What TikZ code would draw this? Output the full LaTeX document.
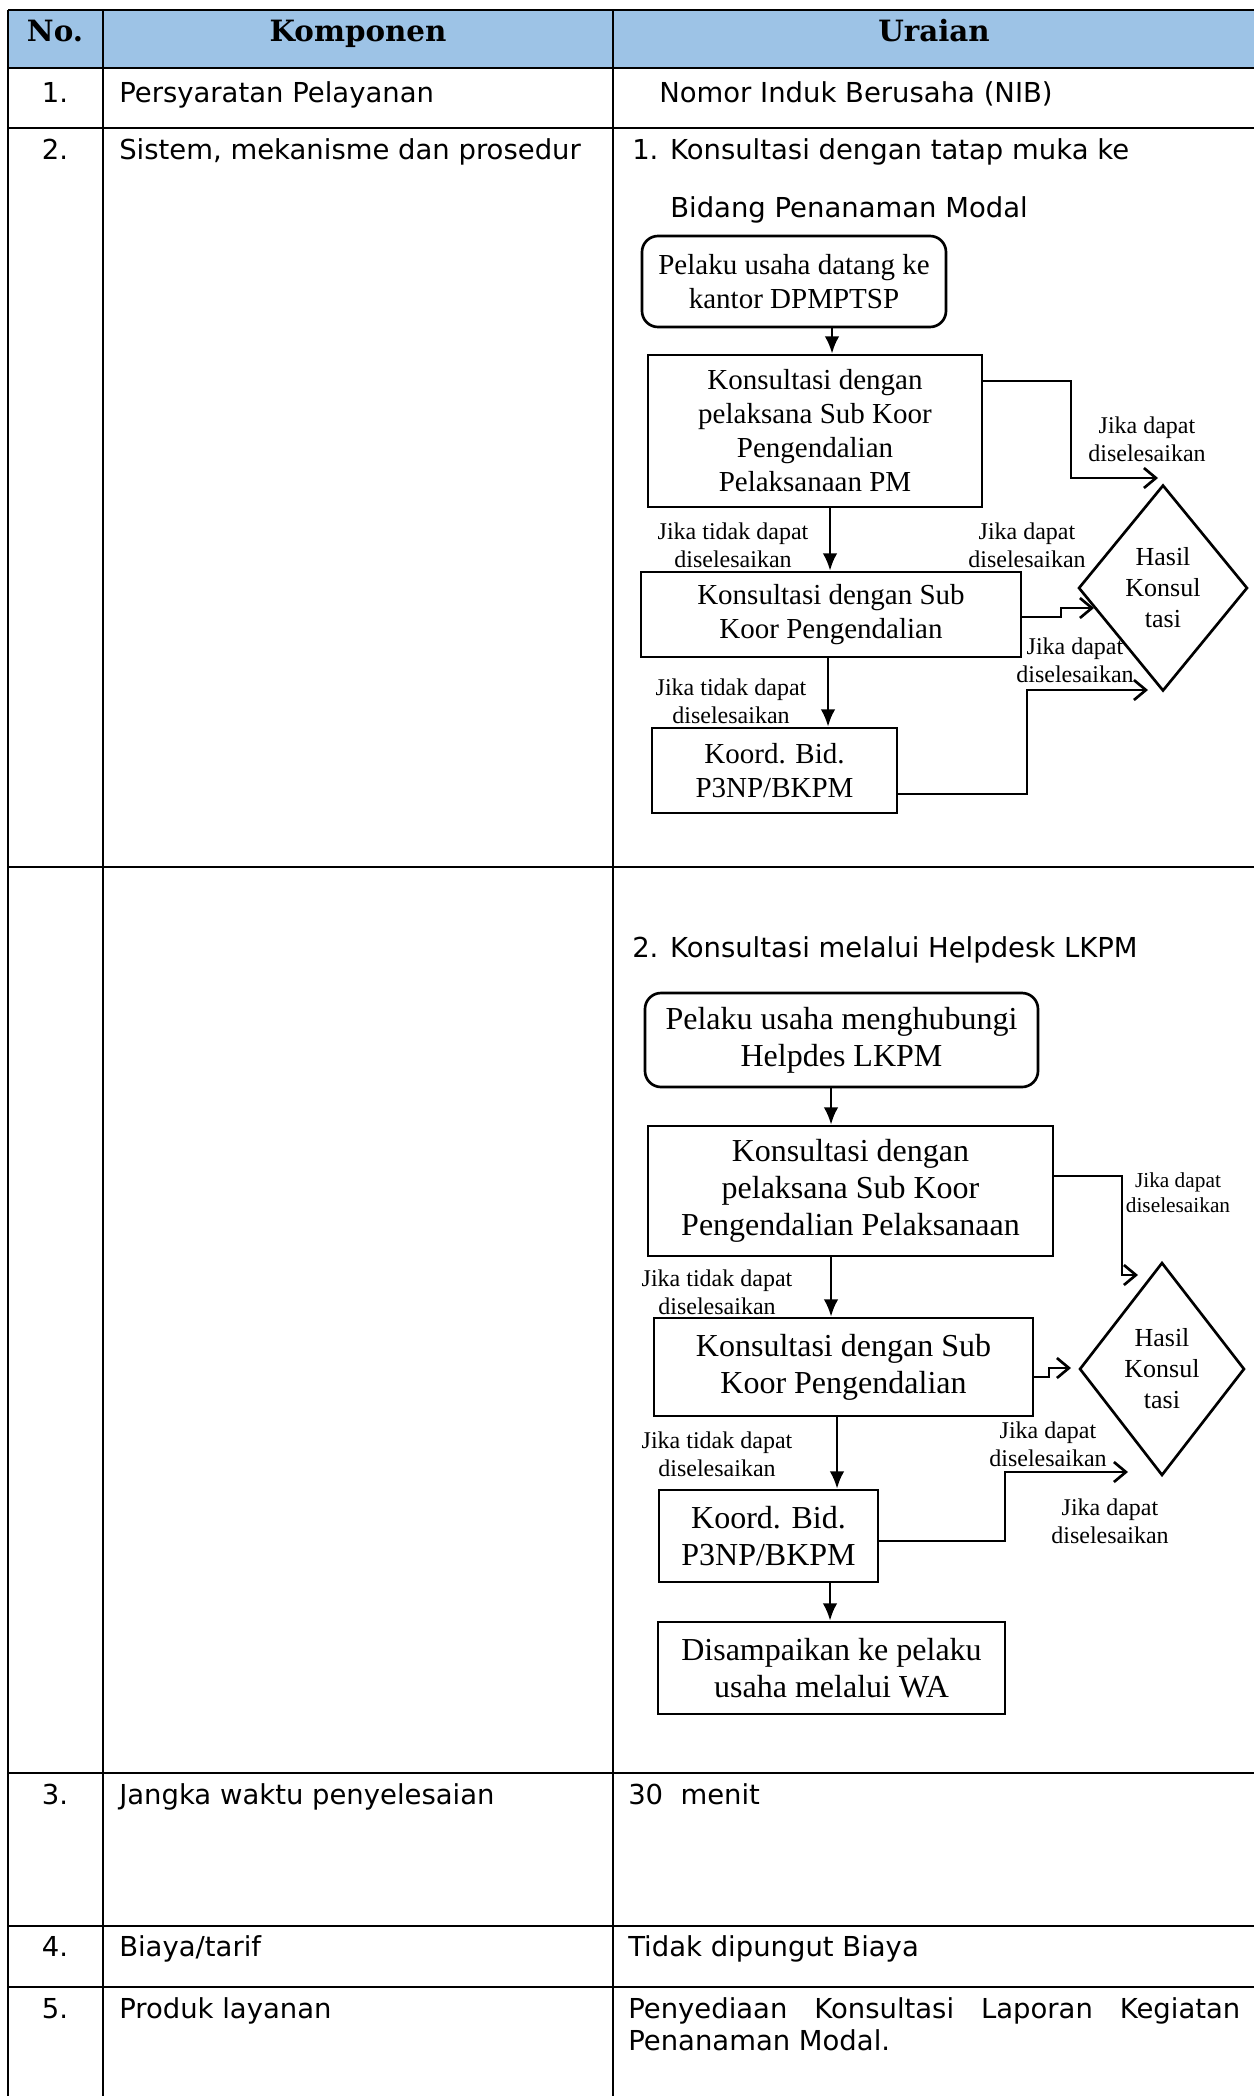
\documentclass[tikz,border=0pt]{standalone}
\usepackage{fontspec}
\setmainfont{Liberation Serif}
\newfontfamily\tabfont{DejaVu Sans}
\newfontfamily\hdrfont{DejaVu Serif}
\usetikzlibrary{arrows.meta,shapes.geometric}
\definecolor{hdrblue}{HTML}{9DC3E6}
\newcommand\fcfontA{\fontsize{21.75pt}{25.5pt}\selectfont}
\newcommand\fcfontB{\fontsize{24pt}{27.75pt}\selectfont}
\newcommand\fclabfont{\fontsize{18pt}{21pt}\selectfont}
\newcommand\fcsmallfont{\fontsize{16pt}{18.75pt}\selectfont}
\newcommand\fcdiafont{\fontsize{19.5pt}{23.25pt}\selectfont}
\begin{document}
\begin{tikzpicture}[x=0.75pt,y=-0.75pt,
  tline/.style={line width=2.1pt},
  hdr/.style={anchor=base, inner sep=0pt, font=\hdrfont\bfseries\fontsize{22pt}{26pt}\selectfont},
  cell/.style={anchor=base west, inner sep=0pt, font=\tabfont\fontsize{20.6pt}{24pt}\selectfont},
  cellc/.style={anchor=base, inner sep=0pt, font=\tabfont\fontsize{20.6pt}{24pt}\selectfont},
  fboxA/.style={draw, line width=2pt, inner sep=0pt, align=center, font=\fcfontA},
  fboxB/.style={draw, line width=2pt, inner sep=0pt, align=center, font=\fcfontB},
  dia/.style={draw, diamond, line width=2pt, inner sep=0pt, align=center, font=\fcdiafont},
  lab/.style={inner sep=0pt, align=center, font=\fclabfont},
  labs/.style={inner sep=0pt, align=center, font=\fcsmallfont},
  darr/.style={line width=2pt, -{Latex[length=13pt,width=11pt]}},
  oarr/.style={line width=2pt, -{Straight Barb[length=9pt,width=15pt]}}
]
\useasboundingbox (0,0) rectangle (1254,2096);
\fill[white] (0,0) rectangle (1254,2096);
% ---------- table ----------
\fill[hdrblue] (8,10) rectangle (1254,68);
\draw[tline] (8,10) -- (1254,10);
\foreach \yy in {68,128,867,1773,1926,1987}{\draw[tline] (8,\yy) -- (1254,\yy);}
\foreach \xx in {8,103,613}{\draw[tline] (\xx,10) -- (\xx,2096);}
\node[hdr] (h1) at (55,41) {No.};
\node[hdr] (h2) at (358,41) {Komponen};
\node[hdr] (h3) at (934,41) {Uraian};
\node[cellc] (n1) at (55,102) {1.};
\node[cell] (k1) at (119,102) {Persyaratan Pelayanan};
\node[cell] (r1) at (659,102) {Nomor Induk Berusaha (NIB)};
\node[cellc] (n2) at (55,159) {2.};
\node[cell] (k2) at (119,159) {Sistem, mekanisme dan prosedur};
\node[cell] (r2a) at (632,159) {1. Konsultasi dengan tatap muka ke};
\node[cell] (r2b) at (670,217) {Bidang Penanaman Modal};
\node[cell] (r2c) at (632,957) {2. Konsultasi melalui Helpdesk LKPM};
\node[cellc] (n3) at (55,1804) {3.};
\node[cell] (k3) at (119,1804) {Jangka waktu penyelesaian};
\node[cell] (r3) at (628,1804) {30\hspace{13pt}menit};
\node[cellc] (n4) at (55,1956) {4.};
\node[cell] (k4) at (119,1956) {Biaya/tarif};
\node[cell] (r4) at (628,1956) {Tidak dipungut Biaya};
\node[cellc] (n5) at (55,2018) {5.};
\node[cell] (k5) at (119,2018) {Produk layanan};
\node[cell] (r5a) at (628,2018) {\makebox[459pt][s]{Penyediaan Konsultasi Laporan Kegiatan}};
\node[cell] (r5b) at (628,2050) {Penanaman Modal.};
% ---------- flowchart 1 ----------
\node[fboxA, rounded corners=12pt, minimum width=228pt, minimum height=68.25pt] (A) at (794,281.5) {Pelaku usaha datang ke\\kantor DPMPTSP};
\node[fboxA, minimum width=250.5pt, minimum height=114pt] (B) at (815,431) {Konsultasi dengan\\pelaksana Sub Koor\\Pengendalian\\Pelaksanaan PM};
\node[fboxA, minimum width=285pt, minimum height=63.75pt] (C) at (831,614.5) {Konsultasi dengan Sub\\Koor Pengendalian};
\node[fboxA, minimum width=183.75pt, minimum height=63.75pt] (D) at (774.5,770.5) {Koord. Bid.\\P3NP/BKPM};
\node[dia, minimum width=126.75pt, minimum height=154.5pt] (H1) at (1163,588) {Hasil\\Konsul\\tasi};
\node[lab] (L1) at (1147,439) {Jika dapat\\diselesaikan};
\node[lab] (L2) at (733,545) {Jika tidak dapat\\diselesaikan};
\node[lab] (L3) at (1027,545) {Jika dapat\\diselesaikan};
\node[lab] (L4) at (1075,660) {Jika dapat\\diselesaikan};
\node[lab] (L5) at (731,701) {Jika tidak dapat\\diselesaikan};
\coordinate (xa) at (832,0);
\coordinate (xb) at (830,0);
\coordinate (xc) at (828,0);
\draw[darr] (A.south -| xa) -- (B.north -| xa);
\draw[darr] (B.south -| xb) -- (C.north -| xb);
\draw[darr] (C.south -| xc) -- (D.north -| xc);
\coordinate (e1) at (1071,381); \coordinate (t1) at (1158,478);
\coordinate (e2) at (1061,617); \coordinate (t2) at (1094,608);
\coordinate (e3) at (1027,794); \coordinate (t3) at (1148,690);
\draw[oarr] (B.east |- e1) -- (e1) |- (t1);
\draw[oarr] (C.east |- e2) -- (e2) |- (t2);
\draw[oarr] (D.east |- e3) -- (e3) |- (t3);
% ---------- flowchart 2 ----------
\node[fboxB, rounded corners=12pt, minimum width=294.75pt, minimum height=70.5pt] (A2) at (841.5,1040) {Pelaku usaha menghubungi\\Helpdes LKPM};
\node[fboxB, minimum width=303.75pt, minimum height=97.5pt] (B2) at (850.5,1191) {Konsultasi dengan\\pelaksana Sub Koor\\Pengendalian Pelaksanaan};
\node[fboxB, minimum width=284.25pt, minimum height=73.5pt] (C2) at (843.5,1367) {Konsultasi dengan Sub\\Koor Pengendalian};
\node[fboxB, minimum width=164.25pt, minimum height=69pt] (D2) at (768.5,1536) {Koord. Bid.\\P3NP/BKPM};
\node[fboxB, minimum width=260.25pt, minimum height=69pt] (E2) at (831.5,1668) {Disampaikan ke pelaku\\usaha melalui WA};
\node[dia, minimum width=123.75pt, minimum height=159.75pt] (H2) at (1162,1369) {Hasil\\Konsul\\tasi};
\node[labs] (M1) at (1178,1193) {Jika dapat\\diselesaikan};
\node[lab] (M2) at (717,1292) {Jika tidak dapat\\diselesaikan};
\node[lab] (M3) at (717,1454) {Jika tidak dapat\\diselesaikan};
\node[lab] (M4) at (1048,1444) {Jika dapat\\diselesaikan};
\node[lab] (M5) at (1110,1521) {Jika dapat\\diselesaikan};
\coordinate (xd) at (831,0);
\coordinate (xe) at (837,0);
\coordinate (xf) at (830,0);
\draw[darr] (A2.south -| xd) -- (B2.north -| xd);
\draw[darr] (B2.south -| xd) -- (C2.north -| xd);
\draw[darr] (C2.south -| xe) -- (D2.north -| xe);
\draw[darr] (D2.south -| xf) -- (E2.north -| xf);
\coordinate (f1) at (1122,1176); \coordinate (s1) at (1138,1275);
\coordinate (f2) at (1049,1377); \coordinate (s2) at (1071,1368);
\coordinate (f3) at (1005,1541); \coordinate (s3) at (1128,1472);
\draw[oarr] (B2.east |- f1) -- (f1) |- (s1);
\draw[oarr] (C2.east |- f2) -- (f2) |- (s2);
\draw[oarr] (D2.east |- f3) -- (f3) |- (s3);
\end{tikzpicture}
\end{document}
